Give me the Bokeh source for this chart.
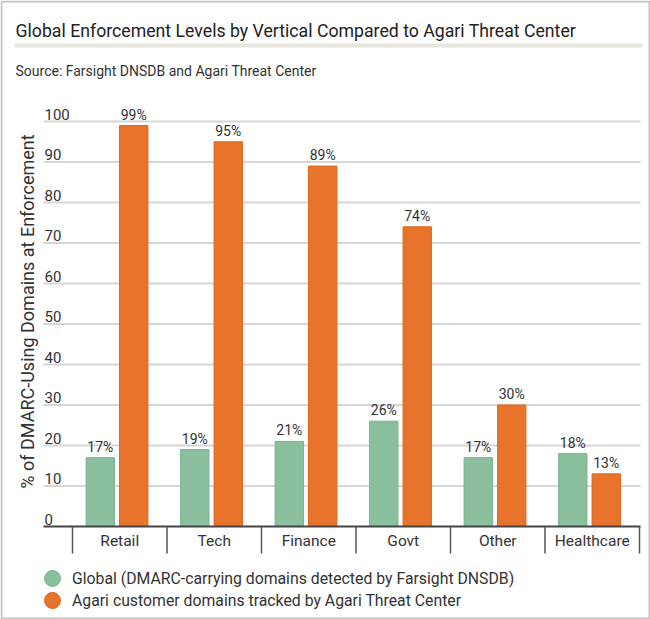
import math
from bokeh.plotting import figure
from bokeh.models import (Range1d, ColumnDataSource, Legend, LegendItem, Label, BoxAnnotation)
from bokeh.transform import dodge
from bokeh.core.properties import value
from bokeh.embed import file_html
from bokeh.resources import INLINE

# ---------------- data ----------------
categories = ["Retail", "Tech", "Finance", "Govt", "Other", "Healthcare"]
global_vals = [17, 19, 21, 26, 17, 18]
agari_vals = [99, 95, 89, 74, 30, 13]
y_ticks = [0, 10, 20, 30, 40, 50, 60, 70, 80, 90, 100]
title_text = "Global Enforcement Levels by Vertical Compared to Agari Threat Center"
source_text = "Source: Farsight DNSDB and Agari Threat Center"
y_label = "% of DMARC-Using Domains at Enforcement"
legend_global = "Global (DMARC-carrying domains detected by Farsight DNSDB)"
legend_agari = "Agari customer domains tracked by Agari Threat Center"

# ---------------- layout / style ----------------
W, H = 650, 619
BASE_PX = 526          # pixel row (from top) of value 0
PX_PER_UNIT = 4.05     # pixels per percentage point
FIRST_BOUND_PX = 72    # left edge of first category
CAT_PX = 94.5          # width of one category
PLOT_LEFT_PX, PLOT_RIGHT_PX = 43, 640

def px_to_x(px):
    return (px - FIRST_BOUND_PX) / CAT_PX - 0.5

FONT = "Roboto"
GREEN = "#8abf9d"
GREEN_LINE = "#7db392"
ORANGE = "#e8732b"
ORANGE_LINE = "#e0661c"
TXT = "#333333"

idx = list(range(len(categories)))
bounds = [i - 0.5 for i in range(len(categories) + 1)]
src = ColumnDataSource(dict(
    x=idx,
    g=global_vals,
    a=agari_vals,
    glab=[f"{v}%" for v in global_vals],
    alab=[f"{v}%" for v in agari_vals],
    cat=categories,
))

p = figure(width=W, height=H,
           x_range=Range1d(px_to_x(0), px_to_x(W)),
           y_range=Range1d(-(H - BASE_PX) / PX_PER_UNIT, BASE_PX / PX_PER_UNIT),
           output_backend="svg", toolbar_location=None, tools="",
           x_axis_type=None, y_axis_type=None,
           min_border=0)
p.outline_line_color = None
p.background_fill_color = "white"
p.border_fill_color = "white"
p.grid.visible = False
p.title.text = ""

x_left, x_right = px_to_x(PLOT_LEFT_PX), px_to_x(PLOT_RIGHT_PX)

# horizontal grid lines
gt = y_ticks[1:]
p.segment(x0=[x_left] * len(gt), x1=[x_right] * len(gt), y0=gt, y1=gt,
          line_color="#d6d6d6", line_width=2)

# y tick labels (sitting above the grid lines)
p.text(x=[x_left] * len(y_ticks), y=y_ticks, text=[str(t) for t in y_ticks],
       text_font=value(FONT), text_font_size="15px", text_color=TXT,
       text_align="left", text_baseline="bottom", x_offset=1, y_offset=-2)

# bars
GOFF, AOFF, BW = -0.206, 0.148, 0.30
p.vbar(x=dodge("x", GOFF, range=p.x_range), top="g", width=BW, source=src,
       fill_color=GREEN, line_color=GREEN_LINE, line_width=1)
p.vbar(x=dodge("x", AOFF, range=p.x_range), top="a", width=BW, source=src,
       fill_color=ORANGE, line_color=ORANGE_LINE, line_width=1)

p.text(x=dodge("x", GOFF, range=p.x_range), y="g", text="glab", source=src,
       text_font=value(FONT), text_font_size="14px", text_color=TXT,
       text_align="center", text_baseline="bottom", y_offset=-3)
p.text(x=dodge("x", AOFF, range=p.x_range), y="a", text="alab", source=src,
       text_font=value(FONT), text_font_size="14px", text_color=TXT,
       text_align="center", text_baseline="bottom", y_offset=-3)

# category axis: base line, separators, labels
p.segment(x0=[x_left], x1=[x_right], y0=[0], y1=[0], line_color="#444444", line_width=2)
p.ray(x=bounds, y=[0] * len(bounds), length=27, length_units="screen",
      angle=-math.pi / 2, line_color="#555555", line_width=1.5)
p.text(x="x", y=0, text="cat", source=src,
       text_font=value(FONT), text_font_size="15.5px", text_color=TXT,
       text_align="center", text_baseline="middle", y_offset=14)

# y axis title
p.add_layout(Label(x=27, y=H - 311, x_units="screen", y_units="screen", text=y_label,
                   angle=math.pi / 2, text_align="center", text_baseline="middle",
                   text_font=FONT, text_font_size="18px", text_color=TXT))

# title, source, separator, outer frame
p.add_layout(Label(x=15, y=H - 30, x_units="screen", y_units="screen", text=title_text,
                   text_align="left", text_baseline="alphabetic",
                   text_font=FONT, text_font_size="17.7px", text_color="#222222"))
p.add_layout(Label(x=15, y=H - 70, x_units="screen", y_units="screen", text=source_text,
                   text_align="left", text_baseline="alphabetic",
                   text_font=FONT, text_font_size="14px", text_color=TXT))
p.add_layout(BoxAnnotation(left=14, right=642, bottom=H - 47, top=H - 43,
                           left_units="screen", right_units="screen",
                           top_units="screen", bottom_units="screen",
                           fill_color="#e6e6df", fill_alpha=1, line_color=None))
p.add_layout(BoxAnnotation(left=1, right=W - 1, bottom=1, top=H - 1,
                           left_units="screen", right_units="screen",
                           top_units="screen", bottom_units="screen",
                           fill_color=None, line_color="#3a3a3a", line_width=2))

# legend with circle swatches (one legend per entry for exact spacing)
nan = float("nan")
rg = p.scatter(x=[nan], y=[nan], marker="circle", fill_color=GREEN, line_color=GREEN_LINE)
ro = p.scatter(x=[nan], y=[nan], marker="circle", fill_color=ORANGE, line_color=ORANGE_LINE)
for lab, r, cy in ((legend_global, rg, 578), (legend_agari, ro, 600)):
    lg = Legend(items=[LegendItem(label=lab, renderers=[r])],
                location=(32, H - (cy + 20)), orientation="vertical",
                glyph_width=40, glyph_height=40, label_standoff=0,
                padding=0, margin=0, border_line_color=None, background_fill_alpha=0,
                label_text_font=FONT, label_text_font_size="15.8px", label_text_color=TXT)
    p.add_layout(lg)

open("out.html", "w").write(file_html(p, INLINE))
